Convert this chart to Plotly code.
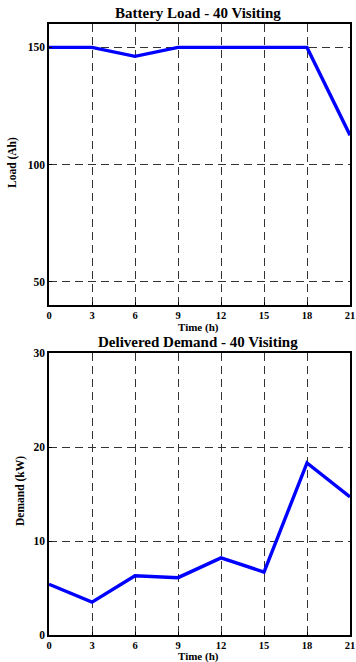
import plotly.graph_objects as go

hours = [0, 3, 6, 9, 12, 15, 18, 21]
battery_load = [150, 150, 146.2, 150, 150, 150, 150, 112.5]
delivered_demand = [5.4, 3.5, 6.3, 6.1, 8.2, 6.7, 18.3, 14.7]
x_ticks = [0, 3, 6, 9, 12, 15, 18, 21]
load_ticks = [50, 100, 150]
demand_ticks = [0, 10, 20, 30]

FONT = "Liberation Serif"
W, H = 356, 662

fig = go.Figure()
fig.add_trace(go.Scatter(x=hours, y=battery_load, mode="lines",
                         line=dict(color="#0000FF", width=3.4),
                         xaxis="x", yaxis="y", showlegend=False))
fig.add_trace(go.Scatter(x=hours, y=delivered_demand, mode="lines",
                         line=dict(color="#0000FF", width=3.4),
                         xaxis="x2", yaxis="y2", showlegend=False))

xdom = [49 / W, 350 / W]
top_dom = [1 - 305 / H, 1 - 24 / H]
bot_dom = [1 - 635 / H, 1 - 353 / H]

axis_common = dict(showline=True, linecolor="black", linewidth=1.5, mirror=True,
                   showgrid=True, gridcolor="#333333", griddash="8px,5px", gridwidth=1,
                   zeroline=False, ticks="inside", ticklen=3, tickcolor="black",
                   automargin=False)
xfont = dict(family=FONT, size=10.5, color="black", weight="bold")
yfont = dict(family=FONT, size=11.5, color="black", weight="bold")


def label(text, x, y, size, angle=0):
    return dict(text=f"<b>{text}</b>", x=x / W, y=1 - y / H, xref="paper", yref="paper",
                xanchor="center", yanchor="middle", showarrow=False, textangle=angle,
                font=dict(family=FONT, size=size, color="black"))


fig.update_layout(
    width=W, height=H,
    margin=dict(l=0, r=0, t=0, b=0, autoexpand=False),
    paper_bgcolor="white", plot_bgcolor="white",
    xaxis=dict(domain=xdom, anchor="y", range=[0, 21], tickvals=x_ticks, tickfont=xfont, **axis_common),
    yaxis=dict(domain=top_dom, anchor="x", range=[40, 160], tickvals=load_ticks, tickfont=yfont, **axis_common),
    xaxis2=dict(domain=xdom, anchor="y2", range=[0, 21], tickvals=x_ticks, tickfont=xfont, **axis_common),
    yaxis2=dict(domain=bot_dom, anchor="x2", range=[0, 30], tickvals=demand_ticks, tickfont=yfont, **axis_common),
    annotations=[
        label("Battery Load - 40 Visiting", 198, 13, 15),
        label("Delivered Demand - 40 Visiting", 198, 342, 15),
        label("Time (h)", 198, 327, 11),
        label("Time (h)", 198, 656, 11),
        label("Load (Ah)", 12, 163, 11.5, -90),
        label("Demand (kW)", 20, 491, 11.5, -90),
    ],
)

fig.write_html("out.html", config={"displayModeBar": False},
               post_script="document.body.style.margin='0';document.body.style.overflow='hidden';")
